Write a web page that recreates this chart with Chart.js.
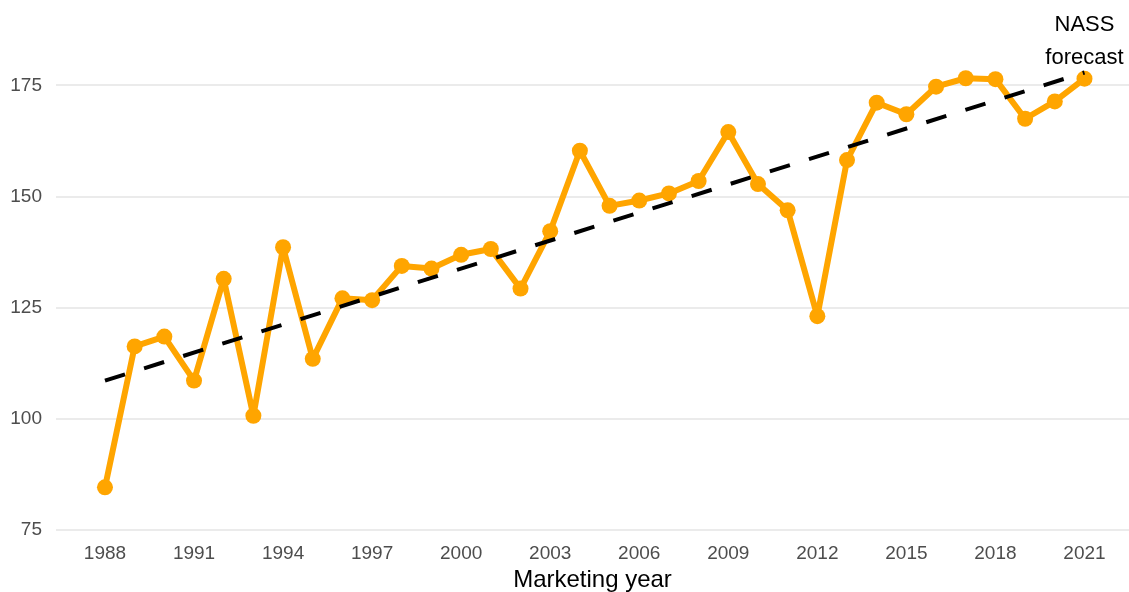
<!DOCTYPE html>
<html>
<head>
<meta charset="utf-8">
<script src="https://cdn.jsdelivr.net/npm/chart.js@4"></script>
<style>
  html, body { margin: 0; padding: 0; background: #fff; }
  #wrap { width: 1129px; height: 592px; }
</style>
</head>
<body>
<div id="wrap"><canvas id="myChart"></canvas></div>
<script>
const ctx = document.getElementById('myChart');

const years = [1988, 1989, 1990, 1991, 1992, 1993, 1994, 1995, 1996, 1997,
  1998, 1999, 2000, 2001, 2002, 2003, 2004, 2005, 2006, 2007,
  2008, 2009, 2010, 2011, 2012, 2013, 2014, 2015, 2016, 2017,
  2018, 2019, 2020, 2021];
const yields = [84.6, 116.3, 118.5, 108.6, 131.5, 100.7, 138.6, 113.5, 127.1, 126.7,
  134.4, 133.8, 136.9, 138.2, 129.3, 142.2, 160.3, 147.9, 149.1, 150.7,
  153.5, 164.5, 152.8, 146.9, 123.1, 158.2, 171.1, 168.5, 174.7, 176.6,
  176.4, 167.5, 171.4, 176.5];
// trend line read at its two ends
const trendYears = [1988, 2021];
const trendValues = [108.6, 177.9];
const xTicks = [1988, 1991, 1994, 1997, 2000, 2003, 2006, 2009, 2012, 2015, 2018, 2021];
const yTicks = [75, 100, 125, 150, 175];
const noteLines = ['NASS', 'forecast'];

const FONT = '"Liberation Sans", Arial, sans-serif';

const forecastNote = {
  id: 'forecastNote',
  afterDatasetsDraw(chart) {
    const c = chart.ctx;
    const x = chart.scales.x.getPixelForValue(years[years.length - 1]);
    c.save();
    c.fillStyle = '#000';
    c.font = '22px ' + FONT;
    c.textAlign = 'center';
    c.textBaseline = 'middle';
    c.fillText(noteLines[0], x, 25);
    c.fillText(noteLines[1], x, 58);
    c.restore();
  }
};

new Chart(ctx, {
  type: 'line',
  data: {
    datasets: [{
      label: 'Trend',
      data: trendYears.map((y, i) => ({x: y, y: trendValues[i]})),
      borderColor: '#000',
      borderWidth: 4,
      borderDash: [21, 20],
      pointRadius: 0,
      order: 0
    }, {
      label: 'Yield',
      data: years.map((y, i) => ({x: y, y: yields[i]})),
      borderColor: '#FFA500',
      backgroundColor: '#FFA500',
      borderWidth: 6,
      borderJoinStyle: 'round',
      borderCapStyle: 'round',
      pointRadius: 8,
      pointBorderWidth: 0,
      pointBackgroundColor: '#FFA500',
      order: 1
    }]
  },
  options: {
    responsive: true,
    maintainAspectRatio: false,
    animation: false,
    layout: { autoPadding: false, padding: 0 },
    plugins: { legend: { display: false }, tooltip: { enabled: false } },
    scales: {
      x: {
        type: 'linear',
        min: 1986.35,
        max: 2022.5,
        afterBuildTicks: (scale) => { scale.ticks = xTicks.map(v => ({value: v})); },
        afterFit: (scale) => {
          scale.height = 55;
          scale.paddingLeft = 0;
          scale.paddingRight = 0;
        },
        grid: { display: false, drawTicks: false },
        border: { display: false },
        ticks: {
          padding: 5,
          color: '#4d4d4d',
          font: { family: FONT, size: 19 },
          callback: (v) => String(v)
        },
        title: {
          display: true,
          text: 'Marketing year',
          color: '#000',
          font: { family: FONT, size: 24 },
          padding: { top: 0, bottom: -2.5 }
        }
      },
      y: {
        min: 73.43,
        max: 194.2,
        afterBuildTicks: (scale) => { scale.ticks = yTicks.map(v => ({value: v})); },
        afterFit: (scale) => {
          scale.width = 56;
          scale.paddingTop = 0;
          scale.paddingBottom = 0;
        },
        grid: { color: '#ebebeb', lineWidth: 2, drawTicks: false },
        border: { display: false },
        ticks: {
          padding: 14,
          color: '#4d4d4d',
          font: { family: FONT, size: 19 }
        }
      }
    }
  },
  plugins: [forecastNote]
});
</script>
</body>
</html>
